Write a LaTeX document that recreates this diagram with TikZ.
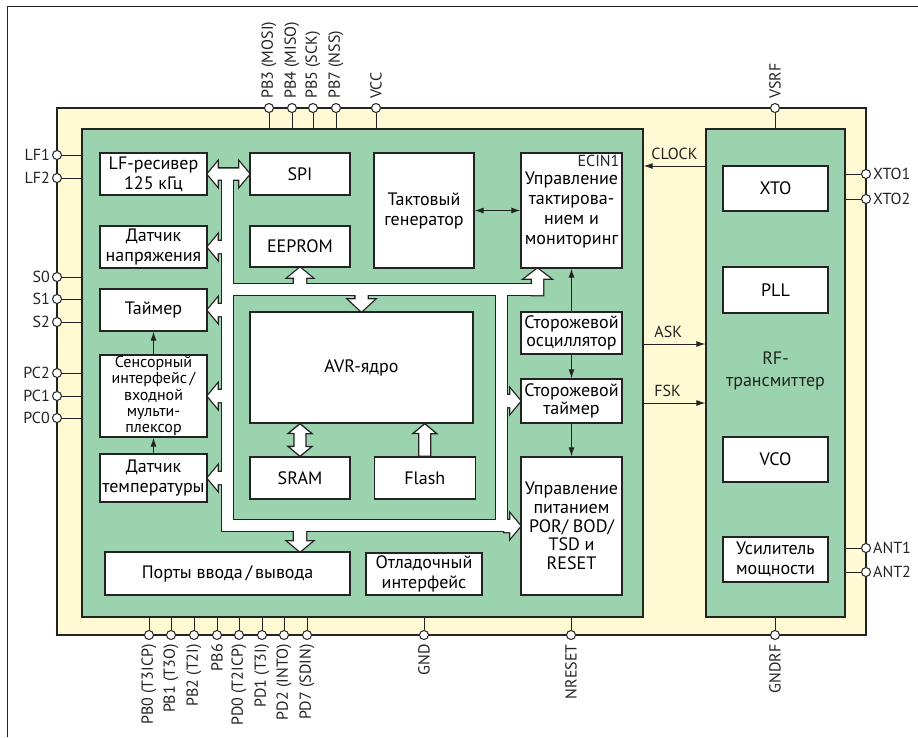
\documentclass[tikz,border=0pt]{standalone}
\usepackage{fontspec}
\setmainfont{PT Sans}
\usepackage{tikz}
\usetikzlibrary{arrows.meta, positioning, backgrounds}

\definecolor{chipyellow}{RGB}{255,249,212}
\definecolor{diegreen}{RGB}{155,211,174}
\definecolor{edge}{RGB}{35,35,35}

\newcommand{\blkfont}{\fontsize{18pt}{20pt}\selectfont}
\newcommand{\pinfont}{\fontsize{16pt}{17pt}\selectfont}

\tikzstyle{chip} = [rectangle, draw=edge, fill=chipyellow, line width=1.3pt]
\tikzstyle{die} = [rectangle, draw=edge, fill=diegreen, line width=1.3pt]
\tikzstyle{blk} = [rectangle, draw=edge, fill=white, line width=1.3pt, align=center, inner sep=0.5pt, font=\blkfont]
\tikzstyle{pin} = [circle, draw=edge, fill=white, line width=1pt, minimum size=9pt, inner sep=0pt]
\tikzstyle{pinwire} = [draw=edge, line width=1pt]
\tikzstyle{pinlbl} = [inner sep=1pt, font=\pinfont, text=edge]
\tikzstyle{arrow} = [line width=1pt, ->, >={Latex[length=9pt,width=6pt]}, color=edge]

% internal bus, drawn twice: thick outline first, white fill after
\newcommand{\busshape}[1]{%
  % bands round the core
  \path[#1] (222,169) rectangle (233,531);
  \path[#1] (222,284) rectangle (543,295);
  \path[#1] (496,284) rectangle (507,531);
  \path[#1] (222,520) rectangle (511,531);
  % LF receiver <-> SPI
  \path[#1] (lfrx.east) -- ++(10,-12) -- ++(0,6.5) -- ([xshift=-10pt,yshift=5.5pt]spi.west) -- ++(0,-6.5) -- (spi.west) -- ++(-10,12) -- ++(0,-6.5) -- ([xshift=10pt,yshift=-5.5pt]lfrx.east) -- ++(0,6.5) -- cycle;
  % taps to the left column
  \foreach \blkname in {vsens, timer, sensif, tsens}
    \path[#1] (\blkname.east) -- ++(10,-12) -- ++(0,6) -- ++(7,0) -- ++(0,12) -- ++(-7,0) -- ++(0,6) -- cycle;
  % taps up into EEPROM and clock control
  \path[#1] (eeprom.south) -- ++(12,10) -- ++(-6,0) -- ++(0,9) -- ++(-12,0) -- ++(0,-9) -- ++(-6,0) -- cycle;
  \path[#1] ([xshift=-34pt]clkctl.south) -- ++(13,10) -- ++(-7.5,0) -- ++(0,16.5) -- ++(-11,0) -- ++(0,-16.5) -- ++(-7.5,0) -- cycle;
  % tap down into the AVR core
  \path[#1] (avr.north) -- ++(-13,-12) -- ++(7,0) -- ++(0,-8) -- ++(12,0) -- ++(0,8) -- ++(7,0) -- cycle;
  % taps to watchdog timer and power control
  \foreach \blkname in {wdt, pwr}
    \path[#1] (\blkname.west) -- ++(-10,-12) -- ++(0,6) -- ++(-6,0) -- ++(0,12) -- ++(6,0) -- ++(0,6) -- cycle;
  % tap down into I/O ports
  \path[#1] (io.north -| sram.north) -- ++(12,-10) -- ++(-6,0) -- ++(0,-14) -- ++(-12,0) -- ++(0,14) -- ++(-6,0) -- cycle;
}

\begin{document}
\begin{tikzpicture}[x=1pt, y=-1pt]
    \useasboundingbox (0,0) rectangle (918,737);

    % Left column
    \node (lfrx) [blk, minimum width=107, minimum height=42] at (153.5,174) {LF-ресивер\\125 кГц};
    \node (vsens) [blk, minimum width=107, minimum height=42] at (153.5,247) {Датчик\\напряжения};
    \node (timer) [blk, minimum width=107, minimum height=42] at (153.5,310) {Таймер};
    \node (sensif) [blk, minimum width=107, minimum height=82, font=\fontsize{16pt}{16.2pt}\selectfont] at (153.5,396) {Сенсорный\\интерфейс\,/\\входной\\мульти-\\плексор};
    \node (tsens) [blk, minimum width=107, minimum height=48] at (153.5,478) {Датчик\\температуры};

    % Memories and core
    \node (spi) [blk, minimum width=100, minimum height=42] at (300,174) {SPI};
    \node (eeprom) [blk, minimum width=100, minimum height=41] at (300,246.5) {EEPROM};
    \node (clkgen) [blk, minimum width=100, minimum height=115] at (424,210.5) {Тактовый\\генератор};
    \node (avr) [blk, minimum width=223, minimum height=111] at (361.5,367.5) {AVR-ядро};
    \node (sram) [blk, minimum width=100, minimum height=42] at (300,478) {SRAM};
    \node (flash) [blk, minimum width=101, minimum height=42, right=23pt of sram] {Flash};
    \node (io) [blk, minimum width=245, minimum height=43] at (227.5,573.5) {Порты ввода\,/\,вывода};
    \node (dbg) [blk, minimum width=116, minimum height=42] at (424,574) {Отладочный\\интерфейс};

    % Clock, watchdog, power
    \node (clkctl) [blk, minimum width=101, minimum height=115, label={[pinlbl, anchor=north east, inner sep=3pt]north east:ECIN1}] at (571.5,210.5) {\\[-8pt]Управление\\тактирова-\\нием и\\мониторинг};
    \node (wdosc) [blk, minimum width=101, minimum height=42, font=\fontsize{18pt}{18.5pt}\selectfont] at (571.5,333) {Сторожевой\\осциллятор};
    \node (wdt) [blk, minimum width=101, minimum height=44, font=\fontsize{18pt}{18.5pt}\selectfont] at (571.5,401) {Сторожевой\\таймер};
    \node (pwr) [blk, minimum width=101, minimum height=138, font=\fontsize{18pt}{18.7pt}\selectfont] at (571.5,526) {Управление\\питанием\\POR/ BOD/\\TSD и\\RESET};

    % RF transmitter
    \node (xto) [blk, minimum width=105, minimum height=45] at (775.5,188.5) {XTO};
    \node (pll) [blk, minimum width=105, minimum height=46] at (775.5,290) {PLL};
    \node (rflbl) [align=center, font=\blkfont, text=edge] at (775.5,371) {RF-\\[2pt]трансмиттер};
    \node (vco) [blk, minimum width=105, minimum height=45] at (775.5,459.5) {VCO};
    \node (pa) [blk, minimum width=105, minimum height=45] at (775.5,559.5) {Усилитель\\мощности};

    \begin{scope}[on background layer]
        % Frame
        \draw [line width=0.9pt, color=edge] (7,737) -- (7,6) -- (918,6);

        % Package and dies
        \node (chip) [chip, minimum width=809, minimum height=527] at (461.5,371.5) {};
        \node (mcu) [die, minimum width=561, minimum height=488] at (362.5,373) {};
        \node (rf) [die, minimum width=139, minimum height=488] at (775.5,373) {};

        % Pins on top
        \foreach \x/\pname/\ptext in {269/pb3/PB3 (MOSI), 292/pb4/PB4 (MISO), 313/pb5/PB5 (SCK), 336/pb7/PB7 (NSS), 376/vcc/VCC} {
            \node (\pname) [pin] at (\x,108) {};
            \draw [pinwire] (\pname) -- (\pname |- mcu.north);
            \node [pinlbl, rotate=90, anchor=west] at ([yshift=3pt]\pname.north) {\ptext};
        }
        \node (vsrf) [pin] at (775,108) {};
        \draw [pinwire] (vsrf) -- (vsrf |- rf.north);
        \node [pinlbl, rotate=90, anchor=west] at ([yshift=3pt]vsrf.north) {VSRF};

        % Pins at the bottom
        \foreach \x/\pname/\ptext in {149/pb0/PB0 (T3ICP), 171/pb1/PB1 (T3O), 194/pb2/PB2 (T2I), 217/pb6/PB6, 239/pd0/PD0 (T2ICP), 262/pd1/PD1 (T3I), 284/pd2/PD2 (INTO), 307/pd7/PD7 (SDIN), 424/gnd/GND, 571/nrst/NRESET} {
            \node (\pname) [pin] at (\x,635) {};
            \draw [pinwire] (\pname) -- (\pname |- mcu.south);
            \node [pinlbl, rotate=90, anchor=east] at ([yshift=-3pt]\pname.south) {\ptext};
        }
        \node (gndrf) [pin] at (775,635) {};
        \draw [pinwire] (gndrf) -- (gndrf |- rf.south);
        \node [pinlbl, rotate=90, anchor=east] at ([yshift=-3pt]gndrf.south) {GNDRF};

        % Pins on the left
        \foreach \y/\pname/\ptext in {155/lf1/LF1, 178/lf2/LF2, 277/s0/S0, 299/s1/S1, 322/s2/S2, 373/pc2/PC2, 396/pc1/PC1, 418/pc0/PC0} {
            \node (\pname) [pin] at (57,\y) {};
            \draw [pinwire] (\pname) -- (\pname -| mcu.west);
            \node [pinlbl, left=1pt of \pname] {\ptext};
        }

        % Pins on the right
        \foreach \y/\pname/\ptext in {174/xto1/XTO1, 199/xto2/XTO2, 548/ant1/ANT1, 572/ant2/ANT2} {
            \node (\pname) [pin] at (866,\y) {};
            \draw [pinwire] (\pname) -- (\pname -| rf.east);
            \node [pinlbl, right=1pt of \pname] {\ptext};
        }

        % Internal bus
        \busshape{draw=edge, line width=2.6pt}
        \busshape{fill=white}

        % Core <-> memories
        \path [draw=edge, fill=white, line width=1.3pt] (avr.south -| sram.north) -- ++(12,10) -- ++(-6,0) -- ++(0,12.8) -- ++(6,0) -- (sram.north) -- ++(-12,-10) -- ++(6,0) -- ++(0,-12.8) -- ++(-6,0) -- cycle;
        \path [draw=edge, fill=white, line width=1.3pt] (avr.south -| flash.north) -- ++(12,10) -- ++(-6,0) -- ([xshift=6pt]flash.north) -- ([xshift=-6pt]flash.north) -- ++(0,-22.8) -- ++(-6,0) -- cycle;
    \end{scope}

    % Signals
    \coordinate (clk) at (0,166);
    \coordinate (ask) at (0,344);
    \coordinate (fsk) at (0,403);
    \draw [arrow] (tsens.north) -- (sensif.south);
    \draw [arrow] (sensif.north) -- (timer.south);
    \draw [arrow, <->] (clkgen.east) -- (clkctl.west);
    \draw [arrow] (wdosc.north) -- (clkctl.south);
    \draw [arrow] (wdosc.south) -- (wdt.north);
    \draw [arrow] (wdt.south) -- (pwr.north);
    \draw [arrow] (rf.west |- clk) -- node [pinlbl, above=5pt] {CLOCK} (mcu.east |- clk);
    \draw [arrow] (mcu.east |- ask) -- node [pinlbl, anchor=south west, pos=0.15, yshift=5pt] {ASK} (rf.west |- ask);
    \draw [arrow] (mcu.east |- fsk) -- node [pinlbl, anchor=south west, pos=0.15, yshift=5pt] {FSK} (rf.west |- fsk);
\end{tikzpicture}
\end{document}
